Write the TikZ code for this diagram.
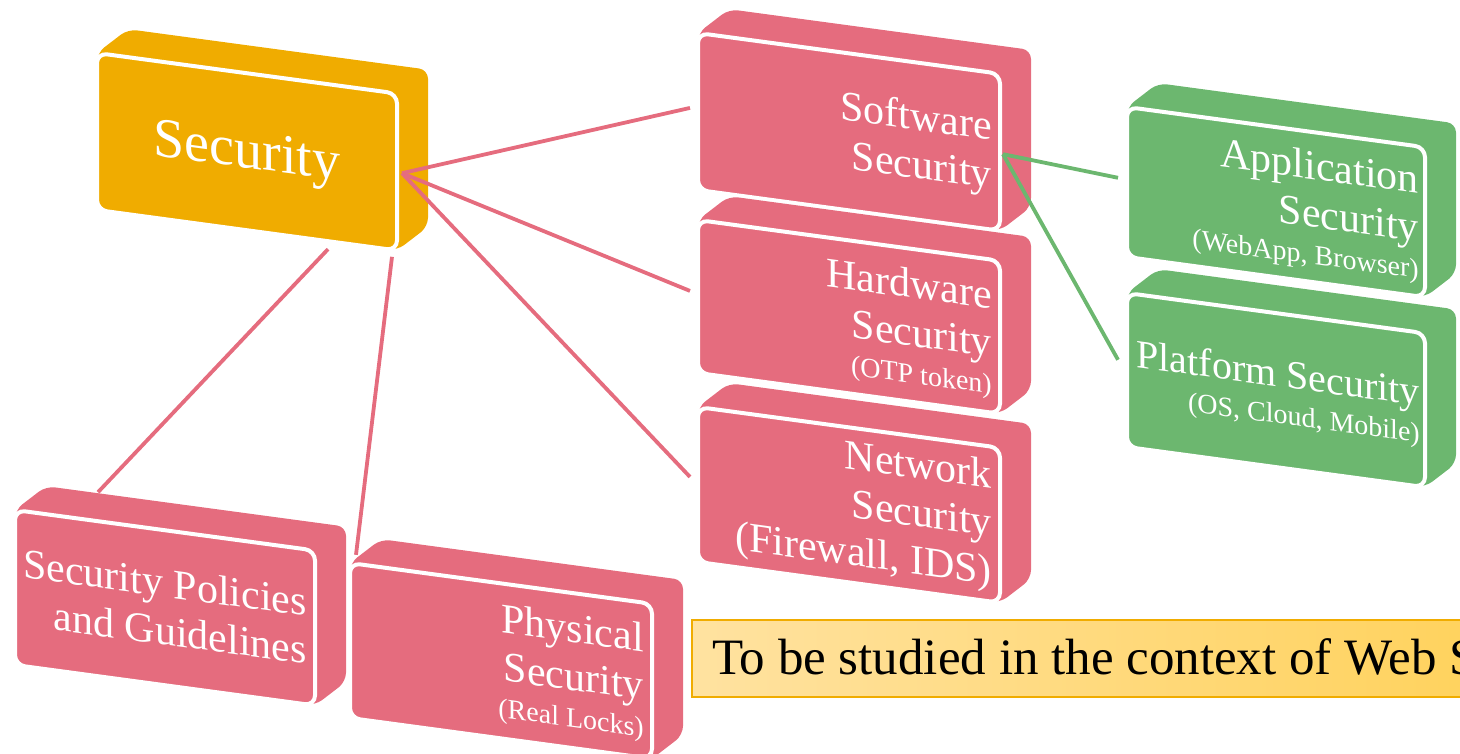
\documentclass[tikz,border=0pt]{standalone}
\usepackage{fontspec}
\setmainfont{Liberation Serif}
\definecolor{secorange}{RGB}{240,172,0}
\definecolor{secpink}{RGB}{229,108,126}
\definecolor{secgreen}{RGB}{108,183,111}
\definecolor{calloutA}{RGB}{255,226,160}
\definecolor{calloutB}{RGB}{255,210,92}
\definecolor{calloutline}{RGB}{240,172,0}
\newcommand\txtbig{\fontsize{42}{48}\selectfont}
\newcommand\txtplat{\fontsize{40}{48}\selectfont}
\newcommand\txtsmall{\fontsize{28}{34}\selectfont}
\newcommand\txthuge{\fontsize{56}{64}\selectfont}
\newcommand\txtcall{\fontsize{51}{58}\selectfont}
\newcommand\drawblock[3]{%
  \fill[#1, rounded corners=9pt] (0,{#3/2}) -- (0,0) -- (31,-28) -- ({#2+31},-28) -- ({#2+31},{#3-28}) -- (#2,#3) -- (0,#3) -- cycle;
  \draw[fill=#1, draw=white, line width=4pt, rounded corners=10pt] (0,0) rectangle (#2,#3);
}
\tikzset{
  blocktext/.style={text=white, transform shape, inner sep=0pt, font=\txtbig},
  slantblock/.style={yslant=-0.135},
  pinkline/.style={draw=secpink, line width=3.8pt},
  greenline/.style={draw=secgreen, line width=3.8pt},
}
\begin{document}
\begin{tikzpicture}[x=1pt, y=-1pt]
\useasboundingbox (0,0) rectangle (1460,753);
\clip (0,0) rectangle (1460,753);

% Security (root)
\begin{scope}[shift={(97,53)}, slantblock]
  \drawblock{secorange}{300}{157}
  \node[blocktext, font=\txthuge] (sec) at (150,82) {Security};
  \coordinate (sec-r) at (305,79);
  \coordinate (sec-b1) at (231,165);
  \coordinate (sec-b2) at (295,164);
\end{scope}

% Software
\begin{scope}[shift={(698,33)}, slantblock]
  \drawblock{secpink}{302}{157}
  \node[blocktext, anchor=east] (sw) at (294,82) {\begin{tabular}{@{}r@{}}Software\\Security\end{tabular}};
  \coordinate (sw-l) at (-8,76);
  \coordinate (sw-r) at (305,80);
\end{scope}

% Hardware
\begin{scope}[shift={(698,220)}, slantblock]
  \drawblock{secpink}{302}{153}
  \node[blocktext, anchor=east] (hw) at (294,82) {\begin{tabular}{@{}r@{}}Hardware\\Security\\[-11pt]{\txtsmall (OTP token)}\end{tabular}};
  \coordinate (hw-l) at (-8,72);
\end{scope}

% Network
\begin{scope}[shift={(698,407)}, slantblock]
  \drawblock{secpink}{302}{155}
  \node[blocktext, anchor=east] (nw) at (294,80) {\begin{tabular}{@{}r@{}}Network\\Security\\(Firewall, IDS)\end{tabular}};
  \coordinate (nw-l) at (-8,71);
\end{scope}

% Application
\begin{scope}[shift={(1127,107)}, slantblock]
  \drawblock{secgreen}{298}{150}
  \node[blocktext, anchor=east] (app) at (292,80) {\begin{tabular}{@{}r@{}}Application\\Security\\[-11pt]{\txtsmall (WebApp, Browser)}\end{tabular}};
  \coordinate (app-l) at (-9,72);
\end{scope}

% Platform
\begin{scope}[shift={(1127,293)}, slantblock]
  \drawblock{secgreen}{298}{154}
  \node[blocktext, anchor=east, font=\txtplat] (plat) at (293,82) {\begin{tabular}{@{}r@{}}Platform Security\\[-11pt]{\txtsmall (OS, Cloud, Mobile)}\end{tabular}};
  \coordinate (plat-l) at (-9,68);
\end{scope}

% Policies
\begin{scope}[shift={(15,510)}, slantblock]
  \drawblock{secpink}{300}{155}
  \node[blocktext, anchor=east] (pol) at (292,81) {\begin{tabular}{@{}r@{}}Security Policies\\and Guidelines\end{tabular}};
  \coordinate (pol-t) at (83,-29);
\end{scope}

% Physical
\begin{scope}[shift={(350,563)}, slantblock]
  \drawblock{secpink}{302}{155}
  \node[blocktext, anchor=east] (phy) at (294,82) {\begin{tabular}{@{}r@{}}Physical\\Security\\[-11pt]{\txtsmall (Real Locks)}\end{tabular}};
  \coordinate (phy-t) at (6,-9);
\end{scope}

% connectors
\draw[pinkline] (sec-r) -- (sw-l);
\draw[pinkline] (sec-r) -- (hw-l);
\draw[pinkline] (sec-r) -- (nw-l);
\draw[pinkline] (sec-b1) -- (pol-t);
\draw[pinkline] (sec-b2) -- (phy-t);
\draw[greenline] (sw-r) -- (app-l);
\draw[greenline] (sw-r) -- (plat-l);

% callout
\draw[left color=calloutA, right color=calloutB, draw=calloutline, line width=2.5pt] (692,620) rectangle (1490,697);
\node[anchor=base west, inner sep=0pt, font=\txtcall] (note) at (712,674) {To be studied in the context of Web Security};
\end{tikzpicture}
\end{document}
